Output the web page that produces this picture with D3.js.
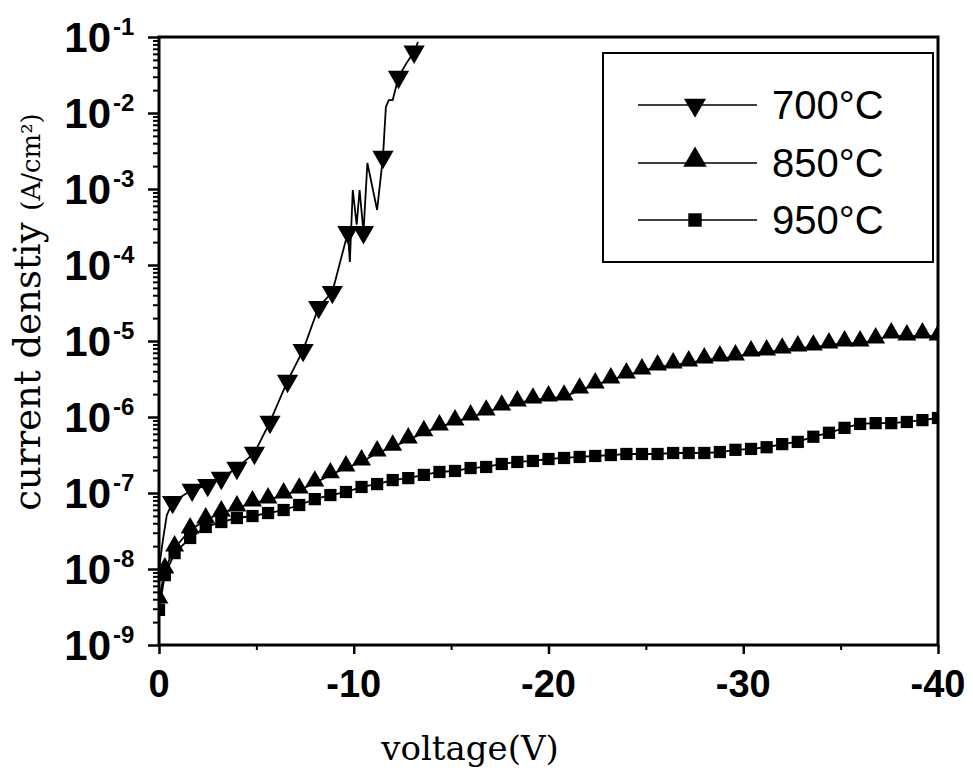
<!DOCTYPE html>
<html>
<head>
<meta charset="utf-8">
<script src="https://cdnjs.cloudflare.com/ajax/libs/d3/7.8.5/d3.min.js"></script>
<style>
  body { margin: 0; background: #fff; }
  svg { display: block; }
</style>
</head>
<body>
<svg id="chart"></svg>
<script>
// données (tension en V, densité de courant en A/cm2)
var series = ["700℃", "850℃", "950℃"];

// 700 : courbe complète + points avec marqueur
var v700 = [0, -0.2, -0.4, -0.7, -1.7, -2.5, -3.2, -4.0, -4.9, -5.7, -6.6, -7.4, -8.2, -8.9, -9.7, -9.8, -9.95, -10.15, -10.3, -10.5, -10.7, -11.2, -11.5, -11.65, -11.8, -12.0, -12.3, -12.7, -13.1, -13.3];
var j700 = [1.0e-8, 2.4e-8, 5.1e-8, 7.6e-8, 1.1e-7, 1.27e-7, 1.58e-7, 2.14e-7, 3.37e-7, 8.6e-7, 2.98e-6, 7.6e-6, 2.8e-5, 4.4e-5, 2.7e-4, 1.1e-4, 9.7e-4, 3.4e-4, 9.7e-4, 2.7e-4, 2.2e-3, 5.3e-4, 2.64e-3, 1.2e-2, 1.48e-2, 1.48e-2, 2.98e-2, 4.5e-2, 6.4e-2, 8.6e-2];
var v700Mark = [-0.7, -1.7, -2.5, -3.2, -4.0, -4.9, -5.7, -6.6, -7.4, -8.2, -8.9, -9.7, -10.5, -11.5, -12.3, -13.1];
var j700Mark = [7.6e-8, 1.1e-7, 1.27e-7, 1.58e-7, 2.14e-7, 3.37e-7, 8.6e-7, 2.98e-6, 7.6e-6, 2.8e-5, 4.4e-5, 2.7e-4, 2.7e-4, 2.64e-3, 2.98e-2, 6.4e-2];

var v850 = [0, -0.3, -0.8, -1.6, -2.4, -3.2, -4, -4.8, -5.6, -6.4, -7.2, -8, -8.8, -9.6, -10.4, -11.2, -12, -12.8, -13.6, -14.4, -15.2, -16, -16.8, -17.6, -18.4, -19.2, -20, -20.8, -21.6, -22.4, -23.2, -24, -24.8, -25.6, -26.4, -27.2, -28, -28.8, -29.6, -30.4, -31.2, -32, -32.8, -33.6, -34.4, -35.2, -36, -36.8, -37.6, -38.4, -39.2, -40];
var j850 = [3.9e-9, 9.7e-9, 1.89e-8, 3.26e-8, 4.41e-8, 5.45e-8, 6.35e-8, 7.4e-8, 8.1e-8, 9.4e-8, 1.09e-7, 1.35e-7, 1.73e-7, 2.13e-7, 2.56e-7, 3.36e-7, 4.0e-7, 4.98e-7, 6.2e-7, 7.4e-7, 8.6e-7, 1.0e-6, 1.16e-6, 1.35e-6, 1.53e-6, 1.67e-6, 1.78e-6, 1.83e-6, 2.26e-6, 2.64e-6, 3.07e-6, 3.57e-6, 4.03e-6, 4.55e-6, 4.83e-6, 5.14e-6, 5.62e-6, 5.97e-6, 6.15e-6, 6.95e-6, 7.16e-6, 7.6e-6, 8.1e-6, 8.3e-6, 8.85e-6, 9.4e-6, 9.4e-6, 1.03e-5, 1.2e-5, 1.13e-5, 1.2e-5, 1.13e-5];

var v950 = [0, -0.3, -0.8, -1.6, -2.4, -3.2, -4, -4.8, -5.6, -6.4, -7.2, -8, -8.8, -9.6, -10.4, -11.2, -12, -12.8, -13.6, -14.4, -15.2, -16, -16.8, -17.6, -18.4, -19.2, -20, -20.8, -21.6, -22.4, -23.2, -24, -24.8, -25.6, -26.4, -27.2, -28, -28.8, -29.6, -30.4, -31.2, -32, -32.8, -33.6, -34.4, -35.2, -36, -36.8, -37.6, -38.4, -39.2, -40];
var j950 = [2.9e-9, 8.3e-9, 1.62e-8, 2.56e-8, 3.57e-8, 4.15e-8, 4.69e-8, 4.98e-8, 5.45e-8, 5.97e-8, 6.95e-8, 8.3e-8, 9.4e-8, 1.03e-7, 1.2e-7, 1.31e-7, 1.48e-7, 1.57e-7, 1.73e-7, 1.89e-7, 1.95e-7, 2.13e-7, 2.2e-7, 2.41e-7, 2.56e-7, 2.64e-7, 2.8e-7, 2.89e-7, 2.98e-7, 3.07e-7, 3.16e-7, 3.26e-7, 3.26e-7, 3.26e-7, 3.36e-7, 3.36e-7, 3.36e-7, 3.46e-7, 3.7e-7, 3.8e-7, 4.0e-7, 4.4e-7, 4.7e-7, 5.5e-7, 6.2e-7, 7.2e-7, 8.1e-7, 8.3e-7, 8.3e-7, 8.6e-7, 9.1e-7, 9.7e-7];

var xTicks = [0, -10, -20, -30, -40];
var xMinor = [-5, -15, -25, -35];
var yExp = [-1, -2, -3, -4, -5, -6, -7, -8, -9];

var svgWidth = 973, svgHeight = 776;
var plotL = 159, plotR = 938, plotT = 37, plotB = 645;

var svg = d3.select("#chart")
  .attr("width", svgWidth)
  .attr("height", svgHeight);

var x = d3.scaleLinear().domain([0, -40]).range([plotL, plotR]);
var y = d3.scaleLog().domain([1e-9, 1e-1]).range([plotB, plotT]);

svg.append("clipPath").attr("id", "plot")
  .append("rect")
  .attr("x", plotL).attr("y", plotT)
  .attr("width", plotR - plotL).attr("height", plotB - plotT);

function zip(vs, js) {
  return vs.map(function(v, i) { return { v: v, j: js[i] }; });
}

var line = d3.line()
  .x(function(d) { return x(d.v); })
  .y(function(d) { return y(d.j); });

var plot = svg.append("g").attr("clip-path", "url(#plot)");

var d700 = zip(v700, j700), m700 = zip(v700Mark, j700Mark);
var d850 = zip(v850, j850), d950 = zip(v950, j950);

[d950, d850, d700].forEach(function(d) {
  plot.append("path")
    .datum(d)
    .attr("fill", "none")
    .attr("stroke", "#000")
    .attr("stroke-width", 1.8)
    .attr("d", line);
});

var triUp = d3.symbol().type(d3.symbolTriangle);
var sq = d3.symbol().type(d3.symbolSquare);

plot.selectAll("path.m950").data(d950).enter()
  .append("path").attr("class", "m950")
  .attr("d", sq.size(150)())
  .attr("transform", function(d) { return "translate(" + x(d.v) + "," + y(d.j) + ")"; });

plot.selectAll("path.m850").data(d850).enter()
  .append("path").attr("class", "m850")
  .attr("d", triUp.size(155)())
  .attr("transform", function(d) { return "translate(" + x(d.v) + "," + (y(d.j) - 2) + ")"; });

plot.selectAll("path.m700").data(m700).enter()
  .append("path").attr("class", "m700")
  .attr("d", triUp.size(195)())
  .attr("transform", function(d) { return "translate(" + x(d.v) + "," + y(d.j) + ") rotate(180)"; });

// axes
var gLeft = svg.append("g").attr("transform", "translate(" + plotL + ",0)");
gLeft.call(d3.axisLeft(y).tickValues(y.ticks().filter(function(t) {
    var e = Math.log10(t); return Math.abs(e - Math.round(e)) > 1e-6;
  })).tickSize(6).tickFormat(""));
gLeft.selectAll(".tick line").attr("stroke-width", 2);
var gLeftMaj = svg.append("g").attr("transform", "translate(" + plotL + ",0)");
gLeftMaj.call(d3.axisLeft(y).tickValues(yExp.map(function(e) { return Math.pow(10, e); }))
  .tickSize(11).tickFormat(""));
gLeftMaj.selectAll(".tick line").attr("stroke-width", 2.5);

var gBot = svg.append("g").attr("transform", "translate(0," + plotB + ")");
gBot.call(d3.axisBottom(x).tickValues(xMinor).tickSize(5).tickFormat(""));
gBot.selectAll(".tick line").attr("stroke-width", 2);
var gBotMaj = svg.append("g").attr("transform", "translate(0," + plotB + ")");
gBotMaj.call(d3.axisBottom(x).tickValues(xTicks).tickSize(9).tickFormat(""));
gBotMaj.selectAll(".tick line").attr("stroke-width", 2.5);

svg.selectAll(".domain").remove();

// cadre
svg.append("rect")
  .attr("x", plotL).attr("y", plotT)
  .attr("width", plotR - plotL).attr("height", plotB - plotT)
  .attr("fill", "none").attr("stroke", "#000").attr("stroke-width", 3);

// étiquettes axe Y : 10^n
var yl = svg.append("g")
  .attr("font-family", "'Liberation Sans', Arial, sans-serif")
  .attr("font-weight", "bold");
yExp.forEach(function(e) {
  var yy = y(Math.pow(10, e));
  yl.append("text")
    .attr("x", 111).attr("y", yy + 15)
    .attr("text-anchor", "end")
    .attr("font-size", 42)
    .text("10");
  yl.append("text")
    .attr("x", 113).attr("y", yy - 2)
    .attr("font-size", 24)
    .text("-" + Math.abs(e));
});

// étiquettes axe X
svg.append("g")
  .attr("font-family", "'Liberation Sans', Arial, sans-serif")
  .attr("font-weight", "bold")
  .attr("font-size", 38)
  .selectAll("text").data(xTicks).enter()
  .append("text")
  .attr("x", function(d) { return x(d); })
  .attr("y", 697)
  .attr("text-anchor", "middle")
  .text(function(d) { return d === 0 ? "0" : "-" + Math.abs(d); });

// titres des axes
svg.append("text")
  .attr("x", 470).attr("y", 760)
  .attr("text-anchor", "middle")
  .attr("font-family", "'DejaVu Serif', serif")
  .attr("font-size", 34)
  .text("voltage(V)");

var yt = svg.append("text")
  .attr("transform", "translate(40,312) rotate(-90)")
  .attr("text-anchor", "middle")
  .attr("font-family", "'DejaVu Serif', serif")
  .attr("font-size", 37);
yt.append("tspan").text("current denstiy ");
yt.append("tspan").attr("font-size", 26).text("(A/cm²)");

// légende
var leg = svg.append("g");
leg.append("rect")
  .attr("x", 603).attr("y", 53)
  .attr("width", 330).attr("height", 209)
  .attr("fill", "#fff").attr("stroke", "#000").attr("stroke-width", 2);

var legY = [105, 163, 220];
var legShapes = [
  function(g) { g.append("path").attr("d", triUp.size(210)()).attr("transform", "rotate(180)"); },
  function(g) { g.append("path").attr("d", triUp.size(240)()).attr("transform", "translate(0,-3)"); },
  function(g) { g.append("path").attr("d", sq.size(180)()); }
];
series.forEach(function(s, i) {
  leg.append("line")
    .attr("x1", 638).attr("x2", 757)
    .attr("y1", legY[i]).attr("y2", legY[i])
    .attr("stroke", "#000").attr("stroke-width", 1.6);
  var m = leg.append("g").attr("transform", "translate(695," + legY[i] + ")");
  legShapes[i](m);
  leg.append("text")
    .attr("x", 772).attr("y", legY[i] + 14)
    .attr("font-family", "'Liberation Sans', Arial, sans-serif")
    .attr("font-size", 40)
    .text(s.replace("℃", "°C"));
});
</script>
</body>
</html>
